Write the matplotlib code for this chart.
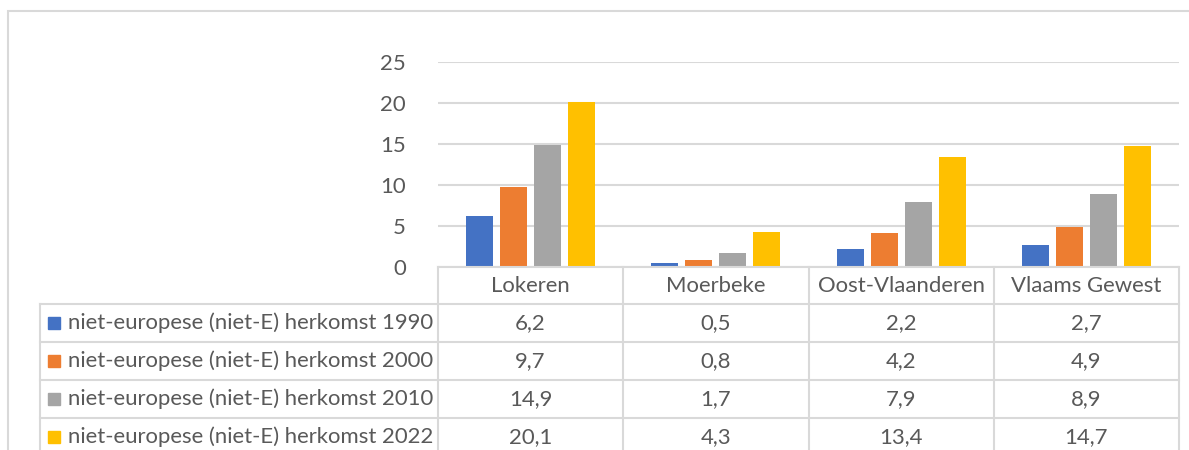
import matplotlib
matplotlib.use("Agg")
import matplotlib.pyplot as plt
from matplotlib.lines import Line2D
from matplotlib.patches import Rectangle
import numpy as np

categories = ["Lokeren", "Moerbeke", "Oost-Vlaanderen", "Vlaams Gewest"]
series_names = ["niet-europese (niet-E) herkomst 1990",
                "niet-europese (niet-E) herkomst 2000",
                "niet-europese (niet-E) herkomst 2010",
                "niet-europese (niet-E) herkomst 2022"]
v1990 = [6.2, 0.5, 2.2, 2.7]
v2000 = [9.7, 0.8, 4.2, 4.9]
v2010 = [14.9, 1.7, 7.9, 8.9]
v2022 = [20.1, 4.3, 13.4, 14.7]
series_values = [v1990, v2000, v2010, v2022]
value_labels = [["6,2", "0,5", "2,2", "2,7"],
                ["9,7", "0,8", "4,2", "4,9"],
                ["14,9", "1,7", "7,9", "8,9"],
                ["20,1", "4,3", "13,4", "14,7"]]
yticks = [0, 5, 10, 15, 20, 25]
colors = ["#4472C4", "#ED7D31", "#A5A5A5", "#FFC000"]

W, H = 1189, 450
DPI = 100
plt.rcParams['font.family'] = ['Lato', 'DejaVu Sans']
TXT = "#595959"
GRID = "#d9d9d9"
FS = 15.9

fig = plt.figure(figsize=(W / DPI, H / DPI), dpi=DPI)

def fx(x):
    return x / W

def fy(y):
    return 1 - y / H

# plot area in pixels
x0, x1 = 438, 1179
y_top, y_bot = 62, 267
ax = fig.add_axes([fx(x0), fy(y_bot), fx(x1) - fx(x0), fy(y_top) - fy(y_bot)])
ax.set_xlim(-0.5, len(categories) - 0.5)
ax.set_ylim(0, 25)
for s in ax.spines.values():
    s.set_visible(False)
ax.set_yticks(yticks)
ax.set_yticklabels([str(t) for t in yticks])
ax.tick_params(axis='y', length=0, pad=23, labelsize=FS, labelcolor=TXT)
ax.set_xticks([])
ax.yaxis.grid(True, color=GRID, linewidth=1.5)
ax.set_axisbelow(True)

cat_px = (x1 - x0) / len(categories)
bw = 27 / cat_px
step = 34 / cat_px
x = np.arange(len(categories))
for i, (vals, c) in enumerate(zip(series_values, colors)):
    ax.bar(x + (i - 1.5) * step, vals, width=bw, color=c, zorder=3)

# outer frame
fig.add_artist(Rectangle((fx(8), fy(470)), fx(1300), fy(11) - fy(470),
                         transform=fig.transFigure, fill=False,
                         edgecolor=GRID, linewidth=1.5))

def hline(y, xa, xb):
    fig.add_artist(Line2D([fx(xa), fx(xb)], [fy(y), fy(y)], color=GRID,
                          linewidth=1.5, transform=fig.transFigure))

def vline(x, ya, yb):
    fig.add_artist(Line2D([fx(x), fx(x)], [fy(ya), fy(yb)], color=GRID,
                          linewidth=1.5, transform=fig.transFigure))

col_edges = [x0 + k * cat_px for k in range(len(categories) + 1)]
row_edges = [304, 342, 380, 418, 456]
leg_left = 40

# table grid
hline(y_bot, x0, x1)
for r in row_edges:
    hline(r, leg_left, x1)
for k, cx in enumerate(col_edges):
    vline(cx, y_bot, 460)
vline(leg_left, row_edges[0], 460)

# header labels
for k, cat in enumerate(categories):
    cx = (col_edges[k] + col_edges[k + 1]) / 2
    fig.text(fx(cx), fy((y_bot + row_edges[0]) / 2), cat, ha='center', va='center',
             fontsize=FS, color=TXT)

# rows
for r in range(len(series_names)):
    cy = (row_edges[r] + row_edges[r + 1]) / 2
    fig.add_artist(Rectangle((fx(48), fy(cy + 6)), fx(12), fy(cy - 6) - fy(cy + 6),
                             transform=fig.transFigure, color=colors[r]))
    fig.text(fx(68), fy(cy), series_names[r], ha='left', va='center',
             fontsize=FS, color=TXT)
    for k in range(len(categories)):
        cx = (col_edges[k] + col_edges[k + 1]) / 2
        fig.text(fx(cx), fy(cy), value_labels[r][k], ha='center', va='center',
                 fontsize=FS, color=TXT)

fig.savefig("out.png", dpi=DPI)
